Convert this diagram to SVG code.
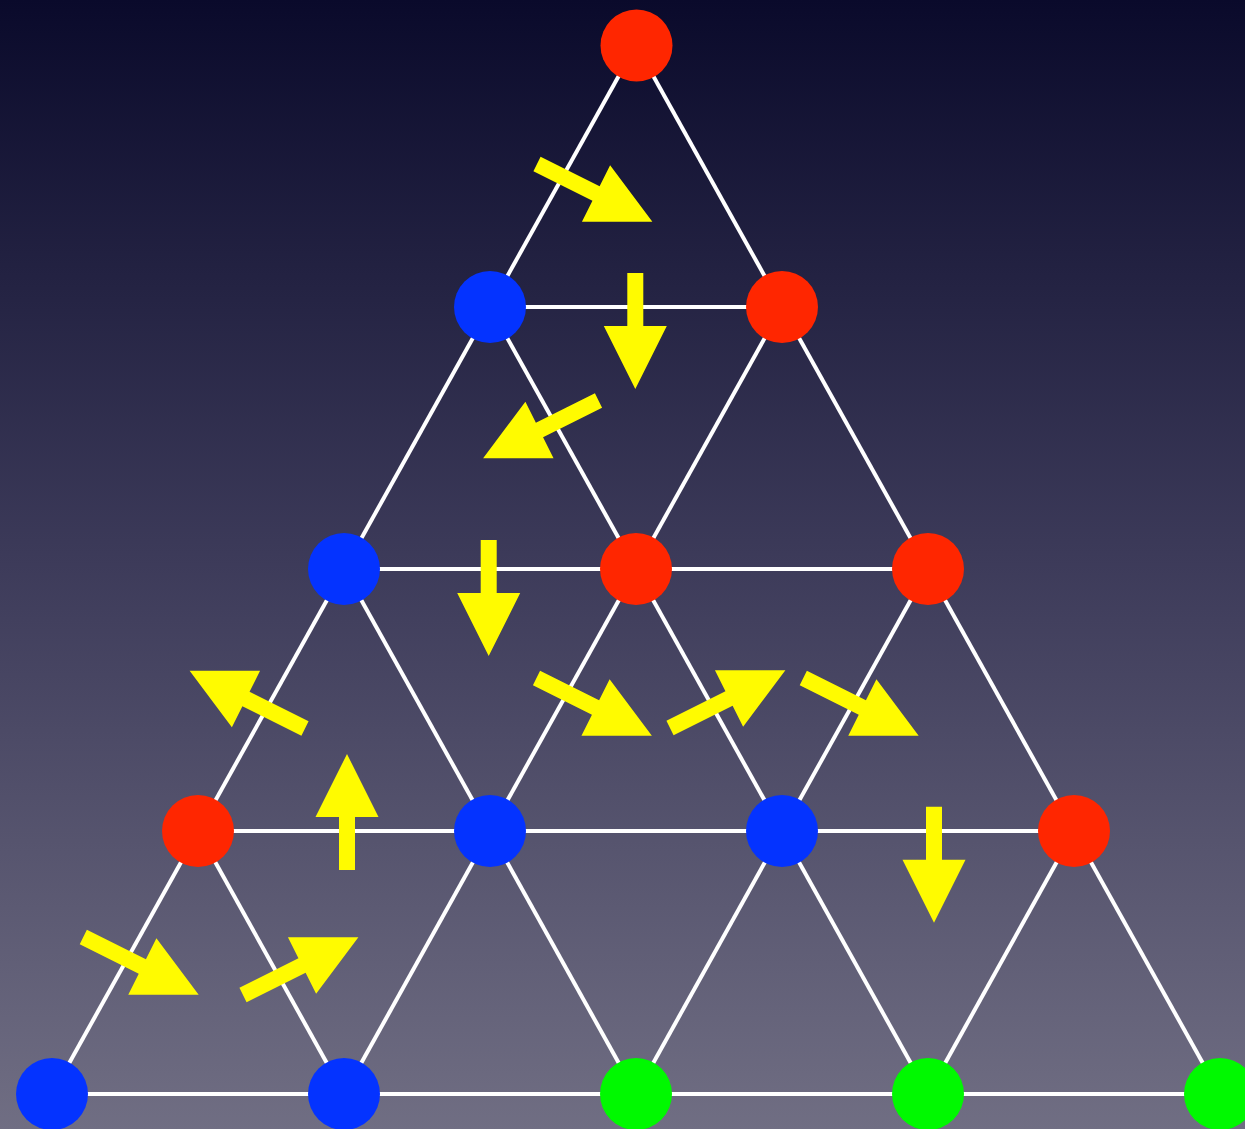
<svg xmlns="http://www.w3.org/2000/svg" xmlns:xlink="http://www.w3.org/1999/xlink" width="1245" height="1129" viewBox="0 0 1245 1129">
  <defs>
    <linearGradient id="bg" x1="0" y1="0" x2="0" y2="1">
      <stop offset="0" stop-color="#0a0a2b"/>
      <stop offset="0.5" stop-color="#3d3b5a"/>
      <stop offset="1" stop-color="#706e83"/>
    </linearGradient>
    <path id="arrDiag" d="M0,-8 L66,-8 L66,-31.5 L129,0 L66,31.5 L66,8 L0,8 Z"/>
    <path id="arrStraight" d="M0,-8 L53,-8 L53,-31.5 L116,0 L53,31.5 L53,8 L0,8 Z"/>
  </defs>
  <style>
    .edge { stroke: #ffffff; stroke-width: 4; fill: none; }
    .arrow { fill: #fffb00; }
    .red { fill: #ff2600; }
    .blue { fill: #0433ff; }
    .green { fill: #00f900; }
  </style>
  <rect x="0" y="0" width="1245" height="1129" fill="url(#bg)"/>
  <g id="connectors">
    <line class="edge" x1="490" y1="307" x2="782" y2="307"/>
    <line class="edge" x1="344" y1="569" x2="928" y2="569"/>
    <line class="edge" x1="198" y1="831" x2="1074" y2="831"/>
    <line class="edge" x1="52" y1="1094" x2="1220" y2="1094"/>
    <line class="edge" x1="636" y1="45" x2="52" y2="1094"/>
    <line class="edge" x1="782" y1="307" x2="344" y2="1094"/>
    <line class="edge" x1="928" y1="569" x2="636" y2="1094"/>
    <line class="edge" x1="1074" y1="831" x2="928" y2="1094"/>
    <line class="edge" x1="636" y1="45" x2="1220" y2="1094"/>
    <line class="edge" x1="490" y1="307" x2="928" y2="1094"/>
    <line class="edge" x1="344" y1="569" x2="636" y2="1094"/>
    <line class="edge" x1="198" y1="831" x2="344" y2="1094"/>
  </g>
  <g id="nodes">
    <g id="n0"><circle class="red" cx="636.5" cy="45.5" r="36"/></g>
    <g id="n1"><circle class="blue" cx="490" cy="307" r="36"/></g>
    <g id="n2"><circle class="red" cx="782" cy="307" r="36"/></g>
    <g id="n3"><circle class="blue" cx="344" cy="569" r="36"/></g>
    <g id="n4"><circle class="red" cx="636" cy="569" r="36"/></g>
    <g id="n5"><circle class="red" cx="928" cy="569" r="36"/></g>
    <g id="n6"><circle class="red" cx="198" cy="831" r="36"/></g>
    <g id="n7"><circle class="blue" cx="490" cy="831" r="36"/></g>
    <g id="n8"><circle class="blue" cx="782" cy="831" r="36"/></g>
    <g id="n9"><circle class="red" cx="1074" cy="831" r="36"/></g>
    <g id="n10"><circle class="blue" cx="52" cy="1094" r="36"/></g>
    <g id="n11"><circle class="blue" cx="344" cy="1094" r="36"/></g>
    <g id="n12"><circle class="green" cx="636" cy="1094" r="36"/></g>
    <g id="n13"><circle class="green" cx="928" cy="1094" r="36"/></g>
    <g id="n14"><circle class="green" cx="1220" cy="1094" r="36"/></g>
  </g>
  <g id="arrows" class="arrow">
    <use xlink:href="#arrDiag" href="#arrDiag" transform="translate(537,164) rotate(26.57)"/>
    <use xlink:href="#arrStraight" href="#arrStraight" transform="translate(635.3,273) rotate(90)"/>
    <use xlink:href="#arrDiag" href="#arrDiag" transform="translate(598.5,400.5) rotate(153.43)"/>
    <use xlink:href="#arrStraight" href="#arrStraight" transform="translate(488.7,540) rotate(90)"/>
    <use xlink:href="#arrDiag" href="#arrDiag" transform="translate(305,728.5) rotate(206.57)"/>
    <use xlink:href="#arrStraight" href="#arrStraight" transform="translate(347,870) rotate(-90)"/>
    <use xlink:href="#arrDiag" href="#arrDiag" transform="translate(83.3,937) rotate(26.57)"/>
    <use xlink:href="#arrDiag" href="#arrDiag" transform="translate(243,995) rotate(-26.57)"/>
    <use xlink:href="#arrDiag" href="#arrDiag" transform="translate(536.5,678) rotate(26.57)"/>
    <use xlink:href="#arrDiag" href="#arrDiag" transform="translate(670,728) rotate(-26.57)"/>
    <use xlink:href="#arrDiag" href="#arrDiag" transform="translate(803.3,678) rotate(26.57)"/>
    <use xlink:href="#arrStraight" href="#arrStraight" transform="translate(934,806.7) rotate(90)"/>
  </g>
</svg>
